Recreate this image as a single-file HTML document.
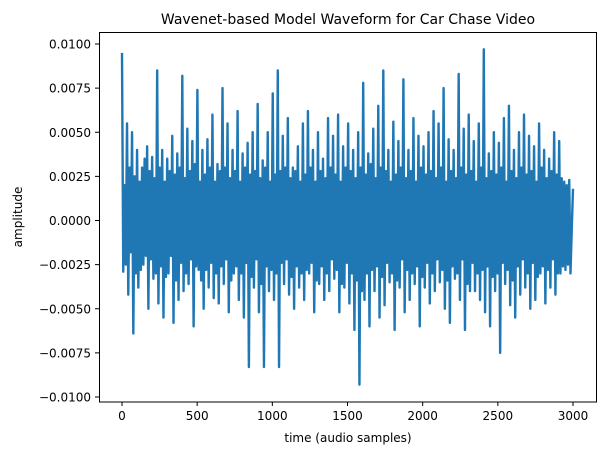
<!DOCTYPE html>
<html><head><meta charset="utf-8"><style>
body{margin:0;background:#fff;}
svg{font-family:"DejaVu Sans","Liberation Sans",sans-serif;}
</style></head><body>
<svg id="chart" width="605" height="455">
<rect width="605" height="455" fill="#fff"/>
<text x="348" y="24" font-size="14" text-anchor="middle">Wavenet-based Model Waveform for Car Chase Video</text>
<g id="plot"></g>
<g id="xaxis"></g>
<g id="yaxis"></g>
<rect x="99.5" y="32.5" width="497" height="369.5" fill="none" stroke="#000" stroke-width="1"/>
<text x="348" y="442" font-size="12" text-anchor="middle">time (audio samples)</text>
<text x="22" y="217" font-size="12" text-anchor="middle" transform="rotate(-90 22 217)">amplitude</text>
</svg>
<script>
const totalSamples = 3000;
const amplitudeE4 = [
95,-29,20,-25,55,-42,30,-18,50,-64,25,-30,40,-38,22,-28,30,-25,35,-20,
42,-50,28,-22,36,-33,24,-30,85,-47,30,-26,40,-55,22,-32,35,-30,28,-20,
48,-58,26,-34,38,-45,30,-24,82,-40,24,-30,52,-36,28,-22,45,-60,32,-26,
74,-28,22,-34,40,-50,26,-28,46,-38,30,-24,60,-44,22,-30,32,-47,28,-26,
75,-36,30,-22,55,-52,24,-34,40,-30,28,-26,62,-45,22,-30,38,-55,30,-24,
44,-83,26,-32,50,-38,28,-22,66,-52,24,-36,34,-83,30,-26,50,-40,22,-28,
72,-45,26,-30,85,-83,28,-24,48,-36,30,-22,58,-42,24,-32,30,-50,28,-26,
42,-38,22,-30,55,-45,26,-28,62,-30,30,-24,40,-52,22,-34,50,-36,28,-26,
35,-45,24,-30,58,-40,30,-22,48,-33,26,-28,60,-52,22,-36,42,-38,30,-24,
55,-47,28,-30,40,-62,24,-34,50,-93,30,-40,78,-45,26,-30,38,-60,32,-28,
52,-40,24,-26,65,-55,30,-32,85,-48,28,-24,40,-35,22,-30,56,-62,26,-34,
45,-38,30,-22,80,-52,24,-28,40,-45,28,-30,58,-36,22,-26,48,-60,30,-32,
42,-38,26,-24,50,-47,28,-30,62,-40,24,-22,55,-35,30,-28,75,-50,22,-34,
46,-58,28,-26,40,-33,24,-30,83,-45,30,-22,52,-62,26,-36,60,-40,28,-24,
45,-40,22,-30,55,-45,30,-28,97,-52,24,-26,38,-60,28,-32,50,-40,26,-30,
44,-75,30,-24,58,-36,22,-28,65,-48,28,-34,40,-55,24,-26,50,-42,30,-22,
60,-38,26,-30,48,-50,28,-24,42,-45,22,-32,55,-30,30,-26,40,-47,24,-28,
35,-38,28,-22,50,-42,26,-30,45,-30,24,-26,22,-28,20,-25,23,-30,-5,18
];
const yTicks = [0.0100,0.0075,0.0050,0.0025,0.0000,-0.0025,-0.0050,-0.0075,-0.0100];
const xTicks = [0,500,1000,1500,2000,2500,3000];
const NS="http://www.w3.org/2000/svg";
function xs(v){return 122+v*(573-122)/3000;}
function ys(v){return 220.5-v*(397-44)/0.02;}
const plot=document.getElementById('plot');
const step = totalSamples/(amplitudeE4.length-1);
let d='';
for(let i=0;i<amplitudeE4.length;i++){
  d+=(i?'L':'M')+xs(i*step).toFixed(2)+' '+ys(amplitudeE4[i]*1e-4).toFixed(2);
}
const path=document.createElementNS(NS,'path');
path.setAttribute('d',d);
path.setAttribute('fill','none');
path.setAttribute('stroke','#1f77b4');
path.setAttribute('stroke-width','2.4');
path.setAttribute('stroke-linejoin','round');


plot.appendChild(path);
const xa=document.getElementById('xaxis');
xTicks.forEach(t=>{
  const l=document.createElementNS(NS,'line');
  l.setAttribute('x1',xs(t));l.setAttribute('x2',xs(t));l.setAttribute('y1',402);l.setAttribute('y2',406);
  l.setAttribute('stroke','#000');
  
  
  xa.appendChild(l);
  const tx=document.createElementNS(NS,'text');
  tx.setAttribute('x',xs(t));tx.setAttribute('y',420);tx.setAttribute('font-size','12');tx.setAttribute('text-anchor','middle');
  tx.textContent=t;
  
  
  xa.appendChild(tx);
});
const ya=document.getElementById('yaxis');
yTicks.forEach(t=>{
  const l=document.createElementNS(NS,'line');
  l.setAttribute('x1',95);l.setAttribute('x2',99.5);l.setAttribute('y1',ys(t));l.setAttribute('y2',ys(t));
  l.setAttribute('stroke','#000');
  
  
  ya.appendChild(l);
  const tx=document.createElementNS(NS,'text');
  tx.setAttribute('x',91);tx.setAttribute('y',ys(t)+4.5);tx.setAttribute('font-size','12');tx.setAttribute('text-anchor','end');
  tx.textContent=(t<0?'\u2212':'')+Math.abs(t).toFixed(4);
  
  
  ya.appendChild(tx);
});
</script>
</body></html>
